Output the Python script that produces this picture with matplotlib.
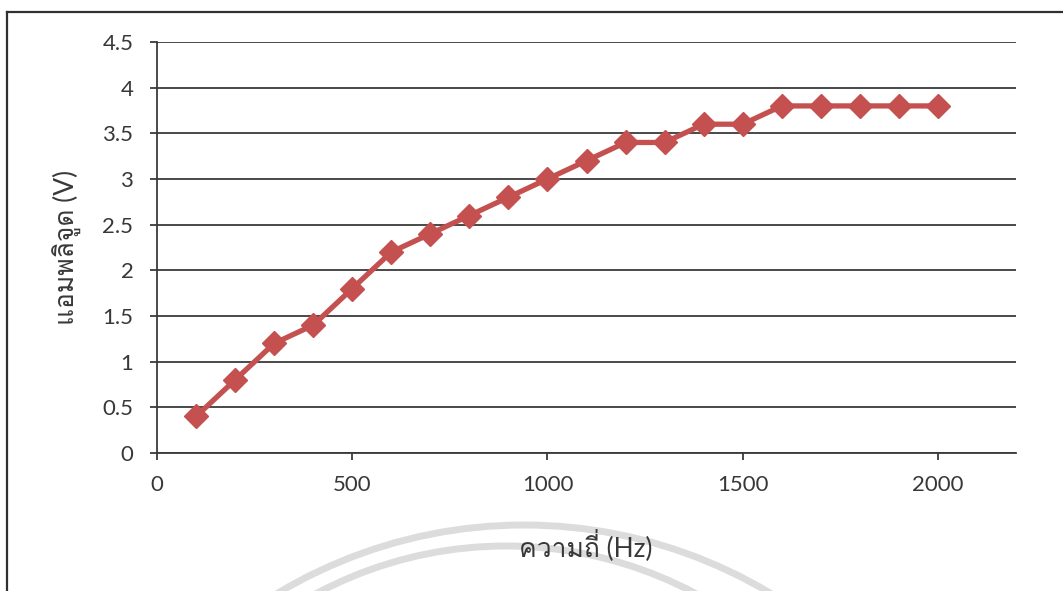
import matplotlib
matplotlib.use("Agg")
import matplotlib.pyplot as plt
from matplotlib import font_manager
from matplotlib.patches import Arc
from matplotlib.lines import Line2D
from matplotlib.transforms import IdentityTransform

# ---- data ----
freq_hz = [100, 200, 300, 400, 500, 600, 700, 800, 900, 1000,
           1100, 1200, 1300, 1400, 1500, 1600, 1700, 1800, 1900, 2000]
amplitude_v = [0.4, 0.8, 1.2, 1.4, 1.8, 2.2, 2.4, 2.6, 2.8, 3.0,
               3.2, 3.4, 3.4, 3.6, 3.6, 3.8, 3.8, 3.8, 3.8, 3.8]
x_ticks = [0, 500, 1000, 1500, 2000]
y_ticks = [0, 0.5, 1, 1.5, 2, 2.5, 3, 3.5, 4, 4.5]
y_tick_labels = ["0", "0.5", "1", "1.5", "2", "2.5", "3", "3.5", "4", "4.5"]
x_label = "ความถี่ (Hz)"
y_label = "แอมพลิจูด (V)"

# ---- fonts ----
names = {f.name for f in font_manager.fontManager.ttflist}
thai = next((n for n in ["Loma", "Sarabun", "Noto Sans Thai Looped",
                         "Noto Sans Thai"] if n in names), "DejaVu Sans")
latin = "Lato" if "Lato" in names else "DejaVu Sans"
fam = [latin, thai, "DejaVu Sans"]
plt.rcParams["font.family"] = fam
TXT = "#383838"

W, H = 1063, 591
fig = plt.figure(figsize=(W / 100, H / 100), dpi=100)
fig.patch.set_facecolor("white")

# background layer: page frame and faint scan watermark arcs
bg = fig.add_axes([0, 0, 1, 1], zorder=-1)
bg.set_xlim(0, W)
bg.set_ylim(H, 0)
bg.axis("off")
for (cx, cy, r) in [(524, 1004, 479), (506, 948, 402)]:
    bg.add_patch(Arc((cx, cy), 2 * r, 2 * r, theta1=180, theta2=360,
                     color="#dcdcdc", lw=5))
bg.add_line(Line2D([7, 7], [12, H], color="#303030", lw=1.6))
bg.add_line(Line2D([7, W], [12, 12], color="#303030", lw=1.6))

ax = fig.add_axes([157 / W, 1 - 453 / H, (1016 - 157) / W, (453 - 42) / H])
ax.patch.set_alpha(0)
ax.plot(freq_hz, amplitude_v, color="#c4504f", lw=3.8, marker="D",
        markersize=12, markerfacecolor="#c4504f", markeredgecolor="#c4504f",
        zorder=3, clip_on=False)

ax.set_xlim(0, 2200)
ax.set_ylim(0, 4.5)
ax.set_xticks(x_ticks)
ax.set_yticks(y_ticks)
ax.set_yticklabels(y_tick_labels)
ax.yaxis.grid(True, color="#3a3a3a", lw=1.3)
ax.set_axisbelow(True)
for s in ["top", "right"]:
    ax.spines[s].set_visible(False)
for s in ["left", "bottom"]:
    ax.spines[s].set_color("#3a3a3a")
    ax.spines[s].set_linewidth(1.3)
ax.tick_params(axis="y", direction="out", length=5, width=1.3, color="#3a3a3a",
               labelsize=16, labelcolor=TXT, pad=12)
ax.tick_params(axis="x", direction="out", length=5, width=1.3, color="#3a3a3a",
               labelsize=16, labelcolor=TXT, pad=11)

LABEL_FS = 19
fig.text(67 / W, 1 - 247 / H, y_label, fontsize=LABEL_FS, color=TXT,
         rotation=90, ha="center", va="center")
fig.text(586, H - 556, x_label, fontsize=LABEL_FS, color=TXT,
         ha="center", va="baseline", transform=IdentityTransform())

fig.savefig("out.png", dpi=100)
